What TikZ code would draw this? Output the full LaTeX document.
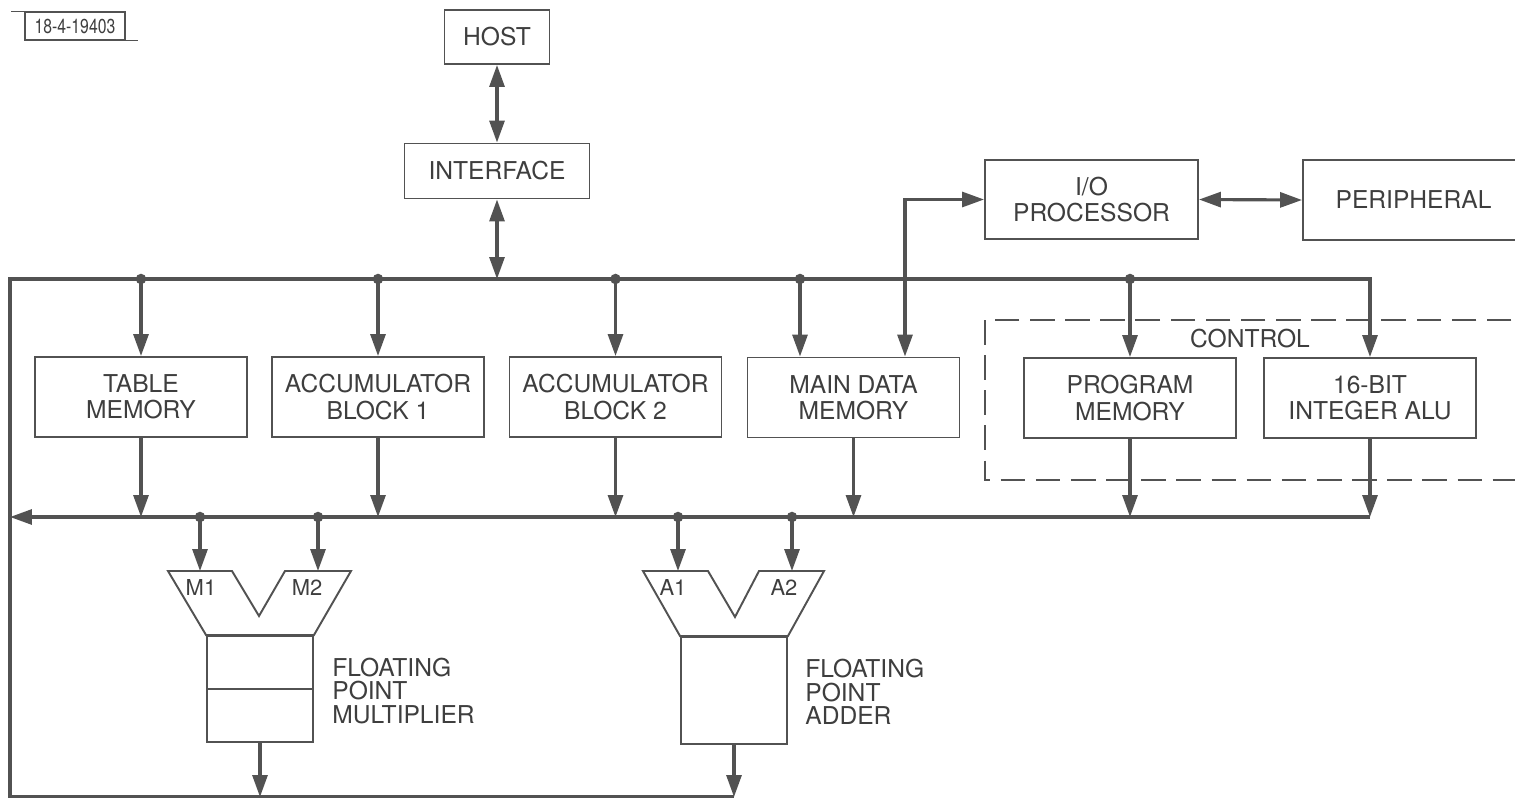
\documentclass[tikz,border=0pt]{standalone}
\usepackage{fontspec}
\setmainfont{TeX Gyre Heros}
\usetikzlibrary{arrows.meta,calc}
\definecolor{ink}{RGB}{82,82,82}
\definecolor{txt}{RGB}{62,62,62}
\begin{document}
\begin{tikzpicture}[x=0.02cm,y=-0.02cm,
  >={Triangle[length=12.5pt,width=8.5pt]},
  blk/.style={draw=ink,line width=1.1pt,text=txt,align=center,inner sep=0pt,
    font=\fontsize{14}{15}\selectfont},
  unitbox/.style={blk,minimum width=4.24cm,minimum height=1.6cm},
  bus/.style={draw=ink,line width=1.8pt,line join=miter},
  arr/.style={bus,->},
  biarr/.style={bus,<->},
  thin/.style={draw=ink,line width=1.1pt,line join=miter},
  lbl/.style={text=txt,align=left,inner sep=0pt,font=\fontsize{14}{13.4}\selectfont},
  port/.style={text=txt,inner sep=0pt,font=\fontsize{12.5}{13}\selectfont}]

\useasboundingbox (0,0) rectangle (1515,798);

% drawing number tag
\node[draw=ink,line width=0.8pt,text=txt,minimum width=2cm,minimum height=0.56cm,
  inner sep=0pt,font=\fontsize{11.5}{11.5}\selectfont\addfontfeatures{FakeStretch=0.78}] (tag) at (75,26) {18-4-19403};
\draw[ink,line width=0.8pt] (tag.north west) -- ++(-13,0);
\draw[ink,line width=0.8pt] (tag.south east) -- ++(12,0);

% host side
\node[blk,minimum width=2.1cm,minimum height=1.08cm] (host) at (497,37) {HOST};
\node[blk,minimum width=3.7cm,minimum height=1.1cm] (iface) at (497,171) {INTERFACE};

% I/O side
\node[blk,minimum width=4.26cm,minimum height=1.58cm] (io) at (1091.5,199.5) {I/O\\PROCESSOR};
\node[blk,minimum width=4.74cm,minimum height=1.6cm] (per) at (1421.5,200) {PERIPHERAL\hspace*{0.32cm}};

% control group outline
\draw[ink,line width=0.9pt,dash pattern=on 14pt off 6pt] (985,320) rectangle (1545,480);
\node[text=txt,inner sep=0pt,font=\fontsize{14}{15}\selectfont] (ctl) at (1250,339) {CONTROL};

% functional blocks
\node[unitbox] (tm)  at (141,397)   {TABLE\\MEMORY};
\node[unitbox] (ac1) at (378,397)   {ACCUMULATOR\\BLOCK 1};
\node[unitbox] (ac2) at (615.5,397) {ACCUMULATOR\\BLOCK 2};
\node[unitbox] (mdm) at (853.5,397.5) {MAIN DATA\\MEMORY};
\node[unitbox] (pm)  at (1130,398)  {PROGRAM\\MEMORY};
\node[unitbox] (alu) at (1370,398)  {16-BIT\\INTEGER ALU};

% bus reference points
\coordinate (tl) at (10,279);
\coordinate (lb) at (10,517);
\coordinate (bl) at (10,797);
\coordinate (d4) at (800,279);
\coordinate (iox) at (905,200);

% floating point units
\node[draw=ink,line width=1.1pt,minimum width=2.12cm,minimum height=2.12cm,inner sep=0pt] (mul) at (260,689) {};
\draw[thin] (mul.west) -- (mul.east);
\draw[thin] (168,571) -- (232,571) -- (259,616) -- (285,571) -- (351,571)
  -- (mul.north east) -- (mul.north west) -- cycle;
\coordinate (m1) at (200,571);
\coordinate (m2) at (318,571);
\node[port] (m1l) at (201,587) {M1};
\node[port] (m2l) at (307,587) {M2};
\node[lbl,anchor=west] (mult) at (332,691) {FLOATING\\POINT\\MULTIPLIER};

\node[draw=ink,line width=1.1pt,minimum width=2.12cm,minimum height=2.14cm,inner sep=0pt] (add) at (734,690.5) {};
\draw[thin] (643,571) -- (708,571) -- (735,617) -- (759,571) -- (824,571)
  -- (add.north east) -- (add.north west) -- cycle;
\coordinate (a1) at (678,571);
\coordinate (a2) at (792,571);
\node[port] (a1l) at (673,587) {A1};
\node[port] (a2l) at (784,587) {A2};
\node[lbl,anchor=west] (addt) at (805,692) {FLOATING\\POINT\\ADDER};

% host links
\draw[biarr] (host.south) -- (iface.north);
\draw[biarr] (iface.south) -- (iface.south |- tl);

% main loop: results back up to the upper bus
\draw[arr] (add.south |- bl) -- (bl) -- (tl) -| (alu.north);

% upper bus drops
\draw[arr] (tm.north |- tl) -- (tm.north);
\draw[arr] (ac1.north |- tl) -- (ac1.north);
\draw[arr] (ac2.north |- tl) -- (ac2.north);
\draw[arr] (d4) -- (d4 |- mdm.north);
\draw[arr] (pm.north |- tl) -- (pm.north);

% I/O processor links
\draw[biarr] (iox |- mdm.north) |- (io.west);
\draw[biarr] (io.east) -- (per.west);

% outputs onto the lower bus
\draw[arr] (tm.south) -- (tm.south |- lb);
\draw[arr] (ac1.south) -- (ac1.south |- lb);
\draw[arr] (ac2.south) -- (ac2.south |- lb);
\draw[arr] (mdm.south) -- (mdm.south |- lb);
\draw[arr] (pm.south) -- (pm.south |- lb);
\draw[arr] (alu.south) -- (alu.south |- lb);
\draw[arr] (alu.south |- lb) -- (lb);

% operand feeds
\draw[arr] (m1 |- lb) -- (m1);
\draw[arr] (m2 |- lb) -- (m2);
\draw[arr] (a1 |- lb) -- (a1);
\draw[arr] (a2 |- lb) -- (a2);

% unit outputs
\draw[arr] (mul.south) -- (mul.south |- bl);
\draw[arr] (add.south) -- (add.south |- bl);

% junction dots
\foreach \p in {(tm.north |- tl),(ac1.north |- tl),(ac2.north |- tl),(d4),(pm.north |- tl),
                (m1 |- lb),(m2 |- lb),(a1 |- lb),(a2 |- lb)}
  \fill[ink] \p circle[radius=3pt];
\end{tikzpicture}
\end{document}
